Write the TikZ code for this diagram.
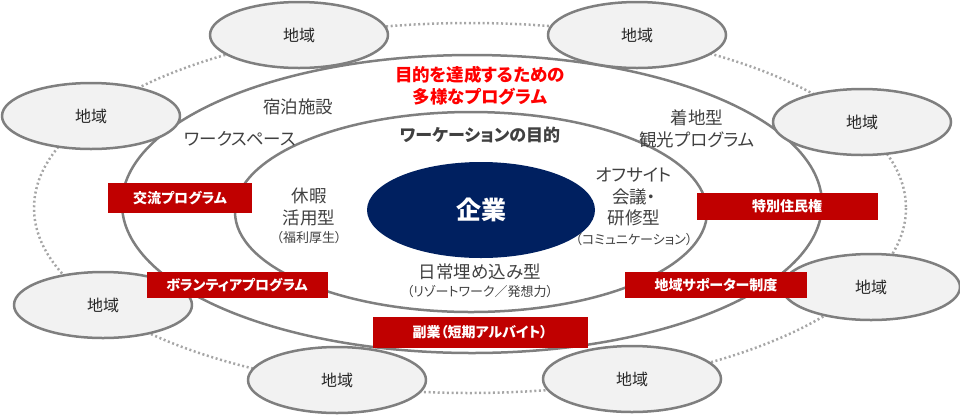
\documentclass[tikz,border=0pt]{standalone}
\usepackage{fontspec}
\setmainfont{Noto Sans CJK JP}[RawFeature=+palt]
\usetikzlibrary{shapes.geometric}
\definecolor{rimgray}{HTML}{7F7F7F}
\definecolor{dotgray}{HTML}{A6A6A6}
\definecolor{areafill}{HTML}{F2F2F2}
\definecolor{corpblue}{HTML}{002060}
\definecolor{progred}{HTML}{C00000}
\definecolor{txtgray}{HTML}{404040}
\begin{document}
\begin{tikzpicture}[x=1pt,y=-1pt,line join=round,
    area/.style={ellipse,draw=rimgray,line width=2.5pt,fill=areafill,minimum width=178pt,minimum height=66pt,inner sep=0pt,text=black!85,font=\fontsize{16}{16}\selectfont},
    prog/.style={fill=progred,text=white,inner sep=0pt,minimum height=28pt,font=\bfseries\fontsize{14}{14}\selectfont},
    lbl/.style={text=txtgray,align=center,font=\fontsize{17.5}{21.5}\selectfont},
    sub/.style={text=txtgray,font=\fontsize{13}{14}\selectfont}]
    \useasboundingbox (0,0) rectangle (960,416);
    % rings
    \draw[dotgray,line width=2.5pt,dash pattern=on 2pt off 2.6pt] (470,208) ellipse [x radius=436,y radius=185];
    \draw[rimgray,line width=2.5pt] (472,204) ellipse [x radius=350,y radius=149];
    \draw[rimgray,line width=2.5pt] (471,212) ellipse [x radius=236,y radius=100];
    \node[ellipse,fill=corpblue,minimum width=228pt,minimum height=96pt,inner sep=0pt,text=white,font=\bfseries\fontsize{25}{25}\selectfont] (corp) at (481,210) {企業};
    % regions
    \node[area] (reg1) at (299,35) {地域};
    \node[area] (reg2) at (637,35) {地域};
    \node[area] (reg3) at (91,116) {地域};
    \node[area] (reg4) at (862,122) {地域};
    \node[area] (reg5) at (103,305) {地域};
    \node[area] (reg6) at (871,287) {地域};
    \node[area] (reg7) at (337,380) {地域};
    \node[area] (reg8) at (632,379) {地域};
    % programs
    \node[prog,minimum width=144pt,minimum height=30pt] (koryu) at (180,198) {交流プログラム};
    \node[prog,minimum width=181pt,minimum height=26pt] (volun) at (237,285) {ボランティアプログラム};
    \node[prog,minimum width=215pt,minimum height=31pt] (fukug) at (480,332) {副業（短期アルバイト）};
    \node[prog,minimum width=182pt,minimum height=26pt] (suppo) at (716,285) {地域サポーター制度};
    \node[prog,minimum width=181pt,minimum height=27pt] (tokub) at (787,206) {特別住民権};
    % labels
    \node[text=red,align=center,font=\bfseries\fontsize{17.5}{22}\selectfont] (goal) at (480,86) {目的を達成するための\\多様なプログラム};
    \node[lbl] (stay) at (298,107) {宿泊施設};
    \node[lbl] (work) at (240,139) {ワークスペース};
    \node[lbl] (tour) at (697,129) {着地型\\観光プログラム};
    \node[text=txtgray,font=\bfseries\fontsize{17}{17}\selectfont] (aim) at (480,135) {ワーケーションの目的};
    \node[lbl] (kyuka) at (309,207) {休暇\\活用型};
    \node[sub] (fukuri) at (309,238) {（福利厚生）};
    \node[lbl] (offsite) at (634,197) {オフサイト\\会議・\\研修型};
    \node[sub] (commu) at (634,240) {（コミュニケーション）};
    \node[lbl] (daily) at (480,272) {日常埋め込み型};
    \node[sub] (resort) at (480,292) {（リゾートワーク／発想力）};
\end{tikzpicture}
\end{document}
